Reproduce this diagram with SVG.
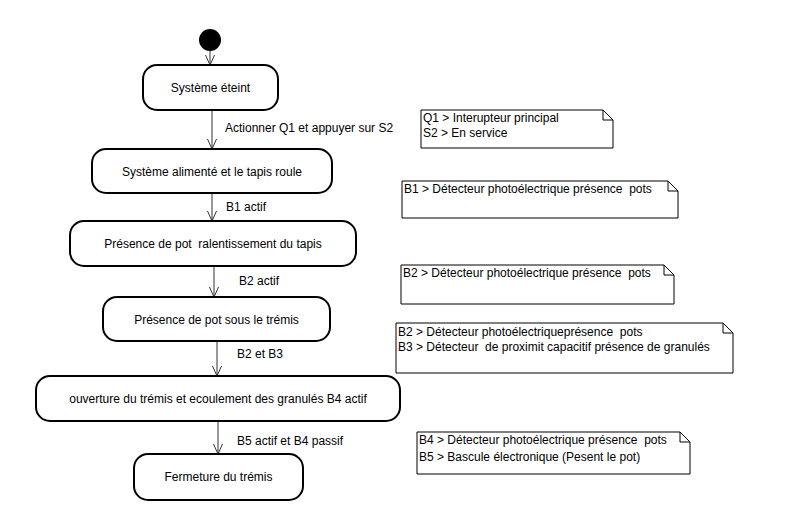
<svg xmlns="http://www.w3.org/2000/svg" width="785" height="518" viewBox="0 0 785 518">
<style>
.node{fill:#fff;stroke:#000;stroke-width:2}
.t{font-family:"Liberation Sans",Arial,sans-serif;font-size:12px;fill:#000;white-space:pre}
.c{text-anchor:middle}
.conn{stroke:#333;stroke-width:1;fill:none}
.note{fill:#fff;stroke:#000;stroke-width:1}
</style>
<defs>
<marker id="arr" viewBox="0 0 10 10" refX="10" refY="5" markerWidth="10" markerHeight="10" markerUnits="userSpaceOnUse" orient="auto">
<path d="M0,0.5 L10,5 L0,9.5" fill="none" stroke="#333" stroke-width="1"/>
</marker>
</defs>
<rect width="785" height="518" fill="#fff"/>
<g id="connectors">
<line class="conn" x1="210" y1="51" x2="210" y2="65" marker-end="url(#arr)"/>
<line class="conn" x1="212" y1="110" x2="212" y2="149" marker-end="url(#arr)"/>
<line class="conn" x1="212" y1="193" x2="212" y2="221" marker-end="url(#arr)"/>
<line class="conn" x1="214" y1="266" x2="214" y2="297" marker-end="url(#arr)"/>
<line class="conn" x1="217" y1="341" x2="217" y2="376" marker-end="url(#arr)"/>
<line class="conn" x1="218" y1="421" x2="218" y2="454" marker-end="url(#arr)"/>
<text class="t" x="225" y="132">Actionner Q1 et appuyer sur S2</text>
<text class="t" x="226" y="211">B1 actif</text>
<text class="t" x="239" y="285">B2 actif</text>
<text class="t" x="237" y="358">B2 et B3</text>
<text class="t" x="237" y="445">B5 actif et B4 passif</text>
</g>
<g id="start"><circle cx="210" cy="40" r="11" fill="#000"/></g>
<g id="n1"><rect class="node" x="143" y="65" width="135" height="45" rx="14"/><text class="t c" x="210.5" y="92">Système éteint</text></g>
<g id="n2"><rect class="node" x="92" y="149" width="240" height="44" rx="14"/><text class="t c" x="212" y="176">Système alimenté et le tapis roule</text></g>
<g id="n3"><rect class="node" x="70" y="221" width="286" height="45" rx="14"/><text class="t c" x="213" y="248" xml:space="preserve">Présence de pot  ralentissement du tapis</text></g>
<g id="n4"><rect class="node" x="103" y="297" width="227" height="44" rx="14"/><text class="t c" x="216.5" y="324">Présence de pot sous le trémis</text></g>
<g id="n5"><rect class="node" x="36" y="376" width="364" height="45" rx="14"/><text class="t c" x="218" y="403">ouverture du trémis et ecoulement des granulés B4 actif</text></g>
<g id="n6"><rect class="node" x="134" y="454" width="169" height="46" rx="14"/><text class="t c" x="218.5" y="481">Fermeture du trémis</text></g>
<g id="note1"><path class="note" d="M421,110 H603 L613,120 V148 H421 Z M603,110 V120 H613"/><text class="t" x="423" y="122">Q1 &gt; Interupteur principal</text><text class="t" x="423" y="137">S2 &gt; En service</text></g>
<g id="note2"><path class="note" d="M402,181 H668 L678,191 V218 H402 Z M668,181 V191 H678"/><text class="t" x="404" y="193" xml:space="preserve">B1 &gt; Détecteur photoélectrique présence  pots</text></g>
<g id="note3"><path class="note" d="M401,265 H664 L674,275 V304 H401 Z M664,265 V275 H674"/><text class="t" x="403" y="277" xml:space="preserve">B2 &gt; Détecteur photoélectrique présence  pots</text></g>
<g id="note4"><path class="note" d="M396,323 H723 L733,333 V373 H396 Z M723,323 V333 H733"/><text class="t" x="398" y="336" xml:space="preserve">B2 &gt; Détecteur photoélectriqueprésence  pots</text><text class="t" x="398" y="351" xml:space="preserve">B3 &gt; Détecteur  de proximit capacitif présence de granulés</text></g>
<g id="note5"><path class="note" d="M417,432 H680 L690,442 V474 H417 Z M680,432 V442 H690"/><text class="t" x="419" y="444" xml:space="preserve">B4 &gt; Détecteur photoélectrique présence  pots</text><text class="t" x="419" y="461">B5 &gt; Bascule électronique (Pesent le pot)</text></g>
</svg>
